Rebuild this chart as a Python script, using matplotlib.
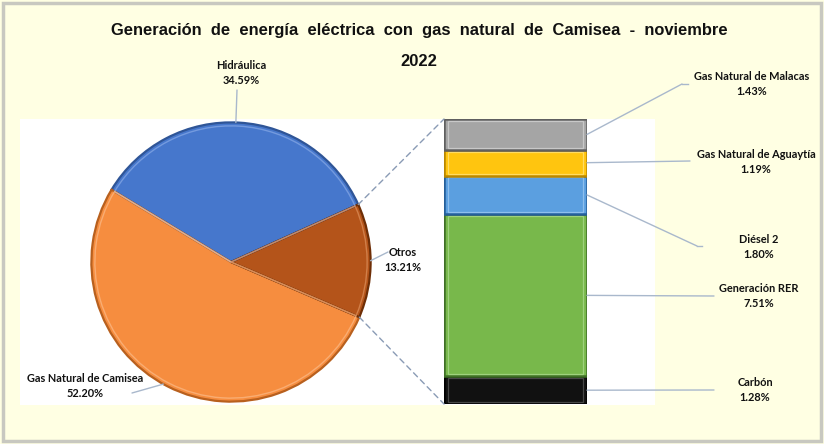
import matplotlib
matplotlib.use("Agg")
import matplotlib.pyplot as plt
from matplotlib.patches import Rectangle, ConnectionPatch
import numpy as np

# ---- data ----
pie_labels = ["Hidráulica", "Gas Natural de Camisea", "Otros"]
pie_values = [34.59, 52.20, 13.21]
pie_colors = ["#4677CC", "#F68D3F", "#B4541A"]
pie_edges = ["#2F5597", "#B8601E", "#6E2E06"]
pie_hi = ["#7FA3E3", "#FAB57F", "#D98A55"]

bar_labels = ["Carbón", "Generación RER", "Diésel 2", "Gas Natural de Aguaytía", "Gas Natural de Malacas"]
bar_values = [1.28, 7.51, 1.80, 1.19, 1.43]
bar_colors = ["#111111", "#78B84B", "#5B9FE0", "#FFC50F", "#A5A5A5"]
bar_edges = ["#000000", "#3F7026", "#255F9A", "#B98700", "#606060"]
bar_hi = ["#555555", "#A9D98A", "#9CC8F2", "#FFE27A", "#D2D2D2"]

title_lines = ["Generación  de  energía  eléctrica  con  gas  natural  de  Camisea  -  noviembre", "2022"]

W, H = 824, 444
fig = plt.figure(figsize=(W / 100, H / 100), dpi=100, facecolor="#FFFFE3")

def fx(px):
    return px / W

def fy(py):
    return 1 - py / H

# outer border
fig.patches.append(Rectangle((fx(3), fy(441)), fx(818), 438 / H, transform=fig.transFigure,
                             fill=False, edgecolor="#C8C8C0", linewidth=2.5, zorder=-2))
# white plot area
fig.patches.append(Rectangle((fx(20), fy(405)), fx(635), 286 / H, transform=fig.transFigure,
                             facecolor="white", edgecolor="none", zorder=-1))

for t, ty in zip(title_lines, [30, 61]):
    fig.text(fx(419), fy(ty), t, ha="center", va="center", fontsize=11.9, fontweight="bold",
             family="Liberation Sans", color="#111111")

# ---- pie ----
axp = fig.add_axes([fx(90), fy(403), fx(282), 282 / H])
axp.set_zorder(2)
startangle = 24.3
wedges, _ = axp.pie(pie_values, colors=pie_colors, startangle=startangle, counterclock=True)
for w, ec in zip(wedges, pie_edges):
    w.set_edgecolor(ec)
    w.set_linewidth(1.6)
# inner highlight (bevel)
hw, _ = axp.pie(pie_values, colors=pie_hi, startangle=startangle, counterclock=True, radius=0.975)
for w, hc in zip(hw, pie_hi):
    w.set_facecolor("none")
    w.set_edgecolor(hc)
    w.set_linewidth(1.0)
    w.set_alpha(0.8)
axp.set_xlim(-1.01, 1.01)
axp.set_ylim(-1.01, 1.01)
axp.set_aspect("equal")
axp.axis("off")

# ---- stacked bar ----
axb = fig.add_axes([fx(444), fy(404), fx(143), 285 / H])
axb.set_zorder(2)
total = sum(bar_values)
bottom = 0
mids = []
inset = 0.09
for v, c, ec, hc in zip(bar_values, bar_colors, bar_edges, bar_hi):
    axb.bar(0, v, bottom=bottom, width=1.0, color=c, edgecolor=ec, linewidth=1.8)
    axb.bar(0, v - 2 * inset, bottom=bottom + inset, width=0.95, fill=False,
            edgecolor=hc, linewidth=0.9, alpha=0.8)
    mids.append(bottom + v / 2)
    bottom += v
axb.set_xlim(-0.5, 0.5)
axb.set_ylim(0, total)
axb.axis("off")

# dashed connectors from Otros wedge to bar
otros = wedges[2]
a1, a2 = np.deg2rad(otros.theta1), np.deg2rad(otros.theta2)
for ang, ybar in [(a2, total), (a1, 0)]:
    cp = ConnectionPatch(xyA=(np.cos(ang), np.sin(ang)), coordsA=axp.transData,
                         xyB=(-0.5, ybar), coordsB=axb.transData,
                         linestyle=(0, (4, 3)), color="#8A9BB5", linewidth=1.0, zorder=3)
    fig.add_artist(cp)

lead_color = "#A9B8CC"
lab_kw = dict(ha="center", va="center", fontsize=7.9, fontweight="bold", family="Lato",
              color="#111111", linespacing=1.35)

# pie labels
pie_label_pos = [(241, 73), (85, 386), (403, 260)]
pie_leader_end = [(237, 90), (132, 393), (388, 252)]
pie_leader_ang = [88, 241, None]
for w, lab, val, (lx, ly), (ex, ey), la in zip(wedges, pie_labels, pie_values, pie_label_pos,
                                               pie_leader_end, pie_leader_ang):
    ang = np.deg2rad((w.theta1 + w.theta2) / 2 if la is None else la)
    cp = ConnectionPatch(xyA=(np.cos(ang), np.sin(ang)), coordsA=axp.transData,
                         xyB=(fx(ex), fy(ey)), coordsB=fig.transFigure,
                         color=lead_color, linewidth=1.0, zorder=3)
    fig.add_artist(cp)
    fig.text(fx(lx), fy(ly), f"{lab}\n{val:.2f}%", **lab_kw)

# bar labels
bar_label_pos = [(755, 390), (759, 296), (759, 247), (756, 162), (752, 84)]
bar_leader = [[(714, 390)], [(714, 296)], [(697, 246), (702, 246)], [(690, 161)], [(682, 84), (688, 84)]]
for lab, val, mid, (lx, ly), pts in zip(bar_labels, bar_values, mids, bar_label_pos, bar_leader):
    cp = ConnectionPatch(xyA=(0.5, mid), coordsA=axb.transData,
                         xyB=(fx(pts[0][0]), fy(pts[0][1])), coordsB=fig.transFigure,
                         color=lead_color, linewidth=1.0, zorder=3)
    fig.add_artist(cp)
    if len(pts) > 1:
        fig.add_artist(plt.Line2D([fx(pts[0][0]), fx(pts[1][0])], [fy(pts[0][1]), fy(pts[1][1])],
                                  transform=fig.transFigure, color=lead_color, linewidth=1.0))
    fig.text(fx(lx), fy(ly), f"{lab}\n{val:.2f}%", **lab_kw)

fig.savefig("out.png", dpi=100, facecolor=fig.get_facecolor())
